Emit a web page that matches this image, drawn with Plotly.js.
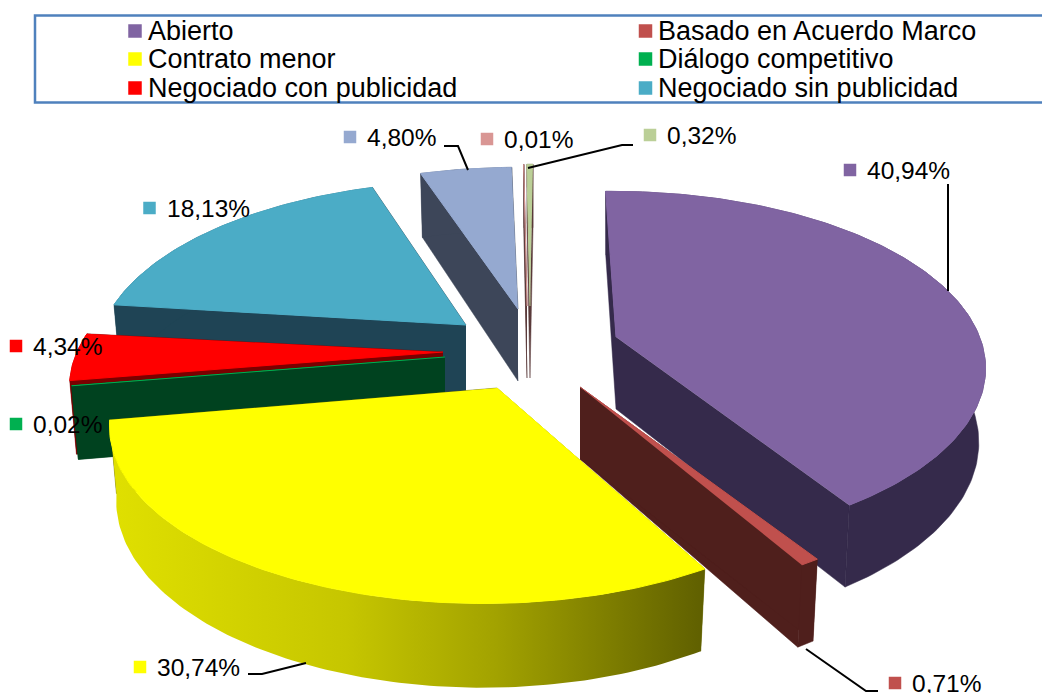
<!DOCTYPE html>
<html>
<head>
<meta charset="utf-8">
<script src="https://cdn.plot.ly/plotly-3.0.1.min.js"></script>
<style>html,body{margin:0;padding:0;background:#fff}#chart{width:1042px;height:693px}</style>
</head>
<body>
<div id="chart"></div>
<script>
// ---- data ----
const names = ['Abierto','Basado en Acuerdo Marco','Contrato menor','Diálogo competitivo',
  'Negociado con publicidad','Negociado sin publicidad','Serie 7','Serie 8','Serie 9'];
const values = [40.94,0.71,30.74,0.02,4.34,18.13,4.80,0.01,0.32];
const topColors = ['#8064a2','#c0504d','#ffff00','#00b050','#ff0000','#4bacc6','#95a9d0','#d99694','#bbcf97'];
const wallColors = ['#352a4b','#4f1f1c','#666600','#00421f','#7a0000','#1f4455','#3d4659','#5a3a3a','#5a3a3a'];
const legendCount = 6;

// ---- styling of the 3D projection ----
const RX = 366, RY = 170, PERSP = 0.2, DEPTH = 72, SHRINK = 0.982;
// exploded-slice arc centres and tips, one per slice (like a pie's "pull")
const originX = [612,580,483,445,443,470,518,530,533];
const originY = [333,387,391,357,352,323,309,306,306];
const tipX    = [616,580,497,445,443,466,518,527,530];
const tipY    = [337,387,388,357,352,325,309,306,306];
const lean    = [1.2,0,0,0,0,0,0,0,0];   // degrees the first slice's edge leans back
const labelX  = [850,895,140,16,16,149.5,350,487,650];
const labelY  = [170,683,667,424,346,208,137,139,135];
// draw order, back to front
const paintOrder = [5,4,3,6,7,8,0,1,2];

function project(thetaDeg, r, ox, oy, bottom){
  const t = thetaDeg*Math.PI/180;
  const u = r*Math.sin(t);
  const front = -Math.cos(t)*r;   // +1 at 6 o'clock, -1 at 12 o'clock
  const s = 1/(1-PERSP*front);
  let x = RX*u*s, y = RY*front*s;
  if(bottom){ x *= SHRINK; y += DEPTH*Math.pow(s,0.7); }
  return [ox+x, oy+y];
}
function poly(points, color, extra){
  return Object.assign({type:'scatter',mode:'lines',x:points.map(p=>p[0]),y:points.map(p=>p[1]),
    fill:'toself',fillcolor:color,line:{color:color,width:0.5},hoverinfo:'skip',showlegend:false},extra||{});
}
const traces = [];
const total = values.reduce((a,b)=>a+b,0);
const starts = []; let acc = 0;
values.forEach(v=>{starts.push(acc); acc += v;});

paintOrder.forEach(i=>{
  const a0 = starts[i]/total*360 - lean[i], a1 = (starts[i]+values[i])/total*360;
  const P = (a,b)=>project(a,1,originX[i],originY[i],b);
  const tip = project(0,0,tipX[i],tipY[i],false), tipB = project(0,0,tipX[i],tipY[i],true);
  // two radial faces
  [a1,a0].forEach(a=>{
    traces.push(poly([tip,P(a,false),P(a,true),tipB], wallColors[i]));
  });
  // outer wall and top
  const arc = []; const n = Math.max(2,Math.ceil(a1-a0));
  for(let k=0;k<=n;k++) arc.push(a0+(a1-a0)*k/n);
  const outer = arc.map(a=>P(a,false)).concat(arc.slice().reverse().map(a=>P(a,true)));
  const extra = i===2 ? {line:{width:0},fillgradient:{type:'horizontal',
    colorscale:[[0,'#e0e000'],[0.4,'#c6c600'],[0.65,'#a2a200'],[1,'#5f5f00']]}} : {};
  traces.push(poly(outer, wallColors[i], extra));
  const top = [tip].concat(arc.map(a=>P(a,false)));
  traces.push(poly(top, topColors[i], {line:{color:topColors[i],width:1}}));
});

// ---- legend and data-label markers ----
const legendX = [135,645.5], legendTextX = [148,658], legendY = [31,59,88];
const annotations = [];
const legX = [], legY = [], legC = [];
for(let i=0;i<legendCount;i++){
  const col = i%2, row = Math.floor(i/2);
  legX.push(legendX[col]); legY.push(legendY[row]); legC.push(topColors[i]);
  annotations.push({x:legendTextX[col],y:legendY[row],xref:'x',yref:'y',text:names[i],showarrow:false,
    xanchor:'left',yanchor:'middle',xshift:-2,font:{family:'Liberation Sans, Arial, sans-serif',size:27,color:'#000'}});
}
traces.push({type:'scatter',mode:'markers',x:legX,y:legY,hoverinfo:'skip',showlegend:false,
  marker:{symbol:'square',size:13.5,color:legC,line:{width:0}}});
traces.push({type:'scatter',mode:'markers',x:labelX,y:labelY,hoverinfo:'skip',showlegend:false,
  marker:{symbol:'square',size:12.5,color:topColors,line:{width:0}}});
values.forEach((v,i)=>{
  annotations.push({x:labelX[i]+17,y:labelY[i],xref:'x',yref:'y',text:v.toFixed(2).replace('.',',')+'%',
    showarrow:false,xanchor:'left',yanchor:'middle',xshift:-2,
    font:{family:'Liberation Sans, Arial, sans-serif',size:24.5,color:'#000'}});
});

// ---- leader lines and the legend frame ----
const leaders = [
  'M948,184 L948,291',
  'M806,649 L866,691 L878,691',
  'M248,674 L262,674 L306,663',
  'M444,146 L458,146 L468,170',
  'M633,145 L622,145 L528,168'
];
const shapes = [{type:'rect',xref:'x',yref:'y',x0:35,y0:15.5,x1:1060,y1:102.5,
  line:{color:'#4f81bd',width:2.5},fillcolor:'rgba(0,0,0,0)'}]
  .concat(leaders.map(p=>({type:'path',xref:'x',yref:'y',path:p,line:{color:'#000',width:2}})));

Plotly.newPlot('chart',traces,{
  width:1042,height:693,autosize:false,
  margin:{l:0,r:0,t:0,b:0,pad:0},
  paper_bgcolor:'#fff',plot_bgcolor:'#fff',showlegend:false,
  xaxis:{range:[0,1042],visible:false,fixedrange:true},
  yaxis:{range:[693,0],visible:false,fixedrange:true},
  annotations:annotations,shapes:shapes
},{displayModeBar:false,staticPlot:true});
</script>
</body>
</html>
